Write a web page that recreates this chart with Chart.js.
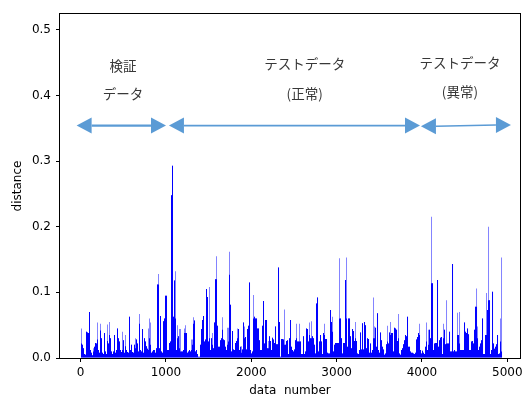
<!DOCTYPE html>
<html>
<head>
<meta charset="utf-8">
<script src="https://cdn.jsdelivr.net/npm/chart.js@4/dist/chart.umd.min.js"></script>
<style>
  html, body { margin: 0; padding: 0; background: #fff; }
  #wrap { width: 527px; height: 398px; }
</style>
</head>
<body>
<div id="wrap"><canvas id="chart" width="527" height="398"></canvas></div>
<script>
// Distance per data number, summarised in bins of BIN_WIDTH consecutive samples.
// peakDistance: largest distance inside the bin; coreDistance: level reached by most samples of the bin.
const BIN_WIDTH = 11.72;
const FIRST_BIN_CENTER = 10;

const peakDistance = [
  0.045,0.020,0.015,0.006,0.005,0.040,0.039,0.038,0.070,0.012,
  0.008,0.004,0.015,0.017,0.023,0.022,0.054,0.012,0.008,0.052,
  0.030,0.008,0.006,0.038,0.010,0.006,0.051,0.022,0.055,0.030,
  0.010,0.006,0.010,0.035,0.008,0.012,0.045,0.030,0.025,0.012,
  0.009,0.040,0.027,0.008,0.035,0.012,0.009,0.008,0.063,0.012,
  0.020,0.009,0.008,0.020,0.030,0.028,0.022,0.010,0.067,0.012,
  0.010,0.044,0.008,0.030,0.025,0.018,0.014,0.045,0.060,0.054,
  0.008,0.010,0.012,0.012,0.008,0.015,0.112,0.128,0.015,0.064,
  0.010,0.008,0.056,0.060,0.095,0.095,0.012,0.012,0.023,0.025,
  0.248,0.293,0.063,0.118,0.132,0.012,0.050,0.033,0.044,0.044,
  0.010,0.010,0.012,0.045,0.050,0.038,0.008,0.010,0.012,0.010,
  0.028,0.028,0.062,0.057,0.010,0.012,0.006,0.002,0.002,0.020,
  0.044,0.058,0.064,0.025,0.028,0.105,0.093,0.025,0.108,0.012,
  0.030,0.038,0.015,0.054,0.120,0.155,0.049,0.017,0.017,0.027,
  0.030,0.062,0.028,0.027,0.017,0.012,0.046,0.046,0.162,0.081,
  0.010,0.041,0.013,0.012,0.023,0.026,0.045,0.044,0.012,0.017,
  0.018,0.013,0.054,0.048,0.032,0.013,0.044,0.049,0.115,0.012,
  0.007,0.010,0.096,0.063,0.060,0.060,0.045,0.045,0.027,0.012,
  0.012,0.049,0.087,0.022,0.058,0.058,0.015,0.026,0.033,0.026,
  0.012,0.031,0.028,0.023,0.048,0.021,0.021,0.138,0.055,0.002,
  0.029,0.029,0.028,0.074,0.020,0.026,0.027,0.006,0.030,0.058,
  0.017,0.012,0.010,0.013,0.027,0.052,0.025,0.025,0.052,0.025,
  0.006,0.006,0.033,0.006,0.010,0.045,0.044,0.025,0.054,0.030,
  0.056,0.033,0.030,0.020,0.007,0.083,0.092,0.010,0.025,0.035,
  0.025,0.006,0.038,0.052,0.029,0.029,0.008,0.007,0.007,0.073,
  0.055,0.063,0.010,0.020,0.023,0.023,0.023,0.023,0.152,0.060,
  0.030,0.007,0.023,0.023,0.119,0.153,0.017,0.060,0.060,0.033,
  0.015,0.044,0.041,0.026,0.055,0.026,0.007,0.006,0.012,0.039,
  0.013,0.053,0.013,0.055,0.050,0.015,0.030,0.029,0.008,0.022,
  0.008,0.012,0.092,0.048,0.046,0.017,0.068,0.012,0.008,0.039,
  0.027,0.017,0.013,0.005,0.007,0.021,0.049,0.022,0.039,0.055,
  0.038,0.038,0.010,0.046,0.045,0.043,0.026,0.067,0.007,0.005,
  0.012,0.015,0.021,0.027,0.035,0.033,0.063,0.017,0.017,0.010,
  0.008,0.008,0.007,0.006,0.008,0.028,0.032,0.038,0.052,0.012,
  0.007,0.011,0.008,0.006,0.017,0.054,0.012,0.043,0.043,0.030,
  0.215,0.114,0.012,0.022,0.023,0.023,0.119,0.017,0.027,0.031,
  0.032,0.006,0.052,0.043,0.021,0.088,0.022,0.022,0.040,0.010,
  0.010,0.143,0.010,0.012,0.010,0.010,0.069,0.035,0.070,0.012,
  0.012,0.012,0.012,0.054,0.040,0.038,0.045,0.036,0.012,0.012,
  0.025,0.026,0.022,0.043,0.078,0.106,0.048,0.012,0.017,0.022,
  0.027,0.060,0.006,0.006,0.035,0.099,0.073,0.200,0.088,0.006,
  0.012,0.101,0.022,0.014,0.017,0.021,0.035,0.006,0.007,0.060,
  0.153
];

const coreDistance = [
  0.022,0.020,0.015,0.006,0.005,0.040,0.039,0.038,0.070,0.012,
  0.008,0.004,0.010,0.017,0.023,0.022,0.028,0.012,0.008,0.042,
  0.030,0.008,0.006,0.038,0.010,0.006,0.026,0.022,0.035,0.030,
  0.010,0.006,0.010,0.035,0.008,0.012,0.045,0.030,0.025,0.012,
  0.009,0.012,0.027,0.008,0.018,0.012,0.009,0.008,0.063,0.012,
  0.020,0.009,0.008,0.020,0.015,0.028,0.022,0.010,0.052,0.012,
  0.010,0.044,0.008,0.030,0.025,0.018,0.014,0.012,0.030,0.020,
  0.008,0.010,0.012,0.012,0.008,0.015,0.112,0.112,0.015,0.064,
  0.010,0.008,0.056,0.060,0.095,0.095,0.012,0.012,0.023,0.025,
  0.248,0.293,0.063,0.118,0.060,0.012,0.030,0.033,0.015,0.010,
  0.010,0.010,0.012,0.038,0.038,0.038,0.008,0.010,0.012,0.010,
  0.012,0.020,0.052,0.057,0.010,0.012,0.006,0.002,0.002,0.020,
  0.044,0.058,0.064,0.025,0.028,0.105,0.093,0.025,0.030,0.012,
  0.030,0.020,0.015,0.054,0.120,0.120,0.049,0.017,0.017,0.027,
  0.030,0.043,0.028,0.027,0.017,0.012,0.020,0.025,0.127,0.081,
  0.010,0.041,0.013,0.012,0.023,0.026,0.030,0.044,0.012,0.017,
  0.008,0.013,0.054,0.030,0.032,0.013,0.044,0.049,0.115,0.012,
  0.007,0.010,0.060,0.063,0.060,0.060,0.045,0.045,0.027,0.012,
  0.012,0.049,0.087,0.022,0.058,0.058,0.015,0.015,0.033,0.026,
  0.012,0.031,0.028,0.023,0.048,0.021,0.021,0.138,0.055,0.002,
  0.029,0.029,0.028,0.020,0.020,0.026,0.027,0.006,0.030,0.058,
  0.017,0.012,0.010,0.013,0.027,0.030,0.025,0.025,0.025,0.025,
  0.006,0.006,0.033,0.006,0.010,0.045,0.044,0.025,0.035,0.030,
  0.030,0.033,0.030,0.020,0.007,0.083,0.092,0.010,0.025,0.035,
  0.025,0.006,0.038,0.035,0.029,0.029,0.008,0.007,0.007,0.073,
  0.055,0.040,0.010,0.020,0.023,0.023,0.023,0.023,0.060,0.060,
  0.030,0.007,0.023,0.023,0.119,0.060,0.017,0.060,0.060,0.033,
  0.015,0.044,0.041,0.026,0.030,0.026,0.007,0.006,0.012,0.039,
  0.013,0.053,0.013,0.055,0.050,0.015,0.030,0.029,0.008,0.022,
  0.008,0.012,0.030,0.030,0.046,0.017,0.068,0.012,0.008,0.039,
  0.027,0.017,0.013,0.005,0.007,0.021,0.025,0.022,0.039,0.035,
  0.038,0.038,0.010,0.046,0.045,0.043,0.026,0.030,0.007,0.005,
  0.012,0.015,0.021,0.027,0.035,0.033,0.063,0.017,0.017,0.010,
  0.008,0.008,0.007,0.006,0.008,0.028,0.032,0.038,0.035,0.012,
  0.007,0.011,0.008,0.006,0.017,0.025,0.012,0.020,0.043,0.030,
  0.114,0.114,0.012,0.022,0.023,0.023,0.119,0.017,0.027,0.031,
  0.032,0.006,0.030,0.043,0.021,0.022,0.022,0.022,0.040,0.010,
  0.010,0.143,0.010,0.012,0.010,0.010,0.035,0.035,0.022,0.012,
  0.012,0.012,0.012,0.054,0.040,0.038,0.045,0.036,0.012,0.012,
  0.025,0.026,0.022,0.043,0.078,0.078,0.030,0.012,0.017,0.022,
  0.027,0.060,0.006,0.006,0.035,0.035,0.073,0.088,0.088,0.006,
  0.012,0.101,0.022,0.014,0.017,0.021,0.035,0.006,0.007,0.025,
  0.010
];

const xTickValues = [0, 1000, 2000, 3000, 4000, 5000];
const yTickValues = [0.0, 0.1, 0.2, 0.3, 0.4, 0.5];

// Data segments marked above the plot: span in data numbers, arrow height, caption lines
const segmentNames = [['検証', 'データ'], ['テストデータ', '(正常)'], ['テストデータ', '(異常)']];
const segmentFrom = [-47, 1035, 3988];
const segmentTo = [1000, 3977, 5043];
const segmentArrowY = [[0.354, 0.354], [0.354, 0.354], [0.353, 0.355]];
const segmentCaptionX = [497, 2625, 4445];
const segmentCaptionY = [[0.445, 0.403], [0.448, 0.402], [0.450, 0.405]];

const binCenters = peakDistance.map((_, i) => FIRST_BIN_CENTER + i * BIN_WIDTH);
const toPoints = vals => vals.map((v, i) => ({ x: binCenters[i], y: v }));

const AXIS_FONT = { family: 'DejaVu Sans', size: 12 };

const segmentPlugin = {
  id: 'segments',
  afterDraw(chart) {
    const { ctx, scales: { x, y }, chartArea: a } = chart;
    ctx.save();
    // plot frame
    ctx.strokeStyle = '#000';
    ctx.lineWidth = 1;
    ctx.strokeRect(Math.round(a.left) - 0.5, Math.round(a.top) - 0.5,
                   Math.round(a.right - a.left) + 1, Math.round(a.bottom - a.top) + 1);

    // double-headed arrows
    const blue = '#5b9bd5';
    const headLen = 15, headHalf = 8;
    segmentFrom.forEach((from, k) => {
      const x0 = x.getPixelForValue(from), x1 = x.getPixelForValue(segmentTo[k]);
      const y0 = y.getPixelForValue(segmentArrowY[k][0]), y1 = y.getPixelForValue(segmentArrowY[k][1]);
      ctx.strokeStyle = blue;
      ctx.fillStyle = blue;
      ctx.lineWidth = k === 0 ? 2.2 : 1.6;
      ctx.beginPath();
      ctx.moveTo(x0 + headLen, y0);
      ctx.lineTo(x1 - headLen, y1);
      ctx.stroke();
      ctx.beginPath();
      ctx.moveTo(x0, y0);
      ctx.lineTo(x0 + headLen, y0 - headHalf);
      ctx.lineTo(x0 + headLen, y0 + headHalf);
      ctx.closePath();
      ctx.fill();
      ctx.beginPath();
      ctx.moveTo(x1, y1);
      ctx.lineTo(x1 - headLen, y1 - headHalf);
      ctx.lineTo(x1 - headLen, y1 + headHalf);
      ctx.closePath();
      ctx.fill();
    });

    // captions
    ctx.fillStyle = '#383838';
    ctx.font = '13.5px "Noto Sans CJK JP"';
    ctx.textAlign = 'center';
    ctx.textBaseline = 'middle';
    segmentNames.forEach((lines, k) => {
      const cx = x.getPixelForValue(segmentCaptionX[k]);
      lines.forEach((line, j) => {
        ctx.fillText(line, cx, y.getPixelForValue(segmentCaptionY[k][j]));
      });
    });
    ctx.restore();
  }
};

new Chart(document.getElementById('chart'), {
  type: 'bar',
  data: {
    datasets: [
      {
        label: 'core',
        data: toPoints(coreDistance),
        backgroundColor: '#0000ff',
        barThickness: 1,
        inflateAmount: 0,
        borderWidth: 0,
        grouped: false,
        order: 0
      },
      {
        label: 'peak',
        data: toPoints(peakDistance),
        backgroundColor: '#8383ff',
        barThickness: 1,
        inflateAmount: 0,
        borderWidth: 0,
        grouped: false,
        order: 1
      }
    ]
  },
  options: {
    responsive: false,
    animation: false,
    devicePixelRatio: 1,
    layout: { padding: { top: 14, right: 7, left: 0, bottom: 0 } },
    plugins: { legend: { display: false }, tooltip: { enabled: false } },
    scales: {
      x: {
        type: 'linear',
        offset: false,
        min: -242,
        max: 5149,
        afterBuildTicks: s => { s.ticks = xTickValues.map(v => ({ value: v })); },
        afterFit: s => { s.height = 40; },
        ticks: {
          font: AXIS_FONT, color: '#000', padding: 4, maxRotation: 0,
          autoSkip: false, callback: v => String(v)
        },
        grid: {
          offset: false,
          drawOnChartArea: false, drawTicks: true, tickLength: 4,
          tickColor: '#000', tickWidth: 1
        },
        border: { display: false },
        title: {
          display: true, text: 'data  number', font: AXIS_FONT, color: '#000',
          padding: { top: 0, bottom: 0 }
        }
      },
      y: {
        min: 0,
        max: 0.524,
        afterBuildTicks: s => { s.ticks = yTickValues.map(v => ({ value: v })); },
        afterFit: s => { s.width = 60; },
        ticks: {
          font: AXIS_FONT, color: '#000', padding: 5, autoSkip: false,
          callback: v => v.toFixed(1)
        },
        grid: {
          drawOnChartArea: false, drawTicks: true, tickLength: 4,
          tickColor: '#000', tickWidth: 1
        },
        border: { display: false },
        title: {
          display: true, text: 'distance', font: AXIS_FONT, color: '#000',
          padding: { top: 11, bottom: 0 }
        }
      }
    }
  },
  plugins: [segmentPlugin]
});
</script>
</body>
</html>
